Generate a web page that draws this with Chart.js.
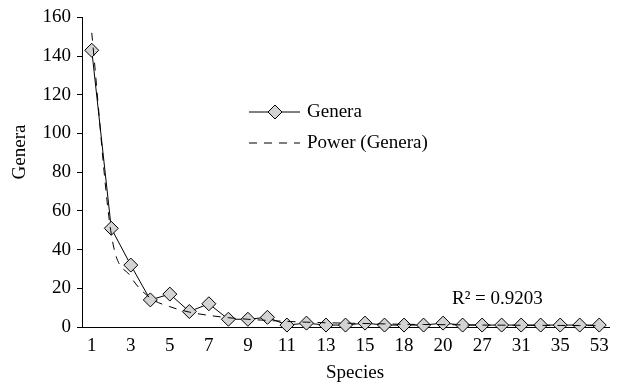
<!DOCTYPE html>
<html>
<head>
<meta charset="UTF-8">
<script src="https://cdn.jsdelivr.net/npm/chart.js@4"></script>
<style>
  body { margin: 0; background: #fff; }
  #wrap { width: 621px; height: 385px; }
</style>
</head>
<body>
<div id="wrap"><canvas id="c" width="621" height="385"></canvas></div>
<script>
// species classes (only every other one is labelled on the axis)
const species = ['1','2','3','4','5','6','7','8','9','10','11','12','13','14','15','16','18','19','20','23','27','29','31','33','35','40','53'];
const genera = [143, 51, 32, 14, 17, 8, 12, 4, 4, 5, 1, 2, 1, 1, 2, 1, 1, 1, 2, 1, 1, 1, 1, 1, 1, 1, 1];
// power trendline
const powerFit = [152, 48, 26, 15, 10.5, 7.7, 6, 4.8, 4, 3.4, 2.9, 2.5, 2.2, 2, 1.8, 1.6, 1.4, 1.3, 1.2, 1.1, 1, 0.95, 0.9, 0.85, 0.8, 0.75, 0.7];
const yTicks = [0, 20, 40, 60, 80, 100, 120, 140, 160];
const r2Text = 'R\u00B2 = 0.9203';

const serif = '"Liberation Serif", "DejaVu Serif", serif';

const overlay = {
  id: 'overlay',
  afterDraw(chart) {
    const ctx = chart.ctx;
    ctx.save();
    ctx.fillStyle = '#000';
    ctx.strokeStyle = '#000';
    ctx.font = '19px ' + serif;
    ctx.textBaseline = 'middle';
    // legend: Genera
    ctx.lineWidth = 1;
    ctx.beginPath(); ctx.moveTo(249, 112); ctx.lineTo(300, 112); ctx.stroke();
    ctx.beginPath();
    ctx.moveTo(275, 105); ctx.lineTo(282, 112); ctx.lineTo(275, 119); ctx.lineTo(268, 112); ctx.closePath();
    ctx.fillStyle = '#d3d3d3'; ctx.fill(); ctx.stroke();
    ctx.fillStyle = '#000';
    ctx.fillText('Genera', 307, 112);
    // legend: Power (Genera)
    ctx.setLineDash([8, 7]);
    ctx.beginPath(); ctx.moveTo(249, 143); ctx.lineTo(300, 143); ctx.stroke();
    ctx.setLineDash([]);
    ctx.fillText('Power (Genera)', 307, 143);
    // R squared
    ctx.fillText(r2Text, 452, 299);
    // axis titles
    ctx.textAlign = 'center';
    ctx.fillText('Species', 355, 373);
    ctx.translate(20, 152);
    ctx.rotate(-Math.PI / 2);
    ctx.fillText('Genera', 0, 0);
    ctx.restore();
  }
};

new Chart(document.getElementById('c'), {
  type: 'line',
  data: {
    labels: species,
    datasets: [
      {
        label: 'Power (Genera)',
        data: powerFit,
        borderColor: '#000',
        borderWidth: 1,
        borderDash: [8, 7],
        pointRadius: 0,
        cubicInterpolationMode: 'monotone',
        fill: false
      },
      {
        label: 'Genera',
        data: genera,
        borderColor: '#000',
        borderWidth: 1,
        pointStyle: 'rectRot',
        pointRadius: 7,
        pointBackgroundColor: '#d3d3d3',
        pointBorderColor: '#000',
        pointBorderWidth: 1,
        tension: 0,
        clip: false,
        fill: false
      }
    ]
  },
  options: {
    responsive: false,
    animation: false,
    layout: { padding: { left: 0, right: 12, top: 16, bottom: 0 } },
    plugins: { legend: { display: false }, tooltip: { enabled: false } },
    scales: {
      x: {
        offset: true,
        grid: { display: false },
        border: { display: true, color: '#000', width: 1 },
        ticks: {
          color: '#000',
          font: { family: serif, size: 19 },
          autoSkip: false,
          maxRotation: 0,
          padding: 0,
          callback: (v, i) => (i % 2 === 0 ? species[i] : '')
        },
        afterFit: s => { s.height = 58; }
      },
      y: {
        min: 0,
        max: 160,
        afterBuildTicks: s => { s.ticks = yTicks.map(v => ({ value: v })); },
        grid: { drawOnChartArea: false, drawTicks: true, tickLength: 5, color: '#000' },
        border: { display: true, color: '#000', width: 1 },
        ticks: { color: '#000', font: { family: serif, size: 19 }, padding: 6 },
        afterFit: s => { s.width = 82; }
      }
    }
  },
  plugins: [overlay]
});
</script>
</body>
</html>
